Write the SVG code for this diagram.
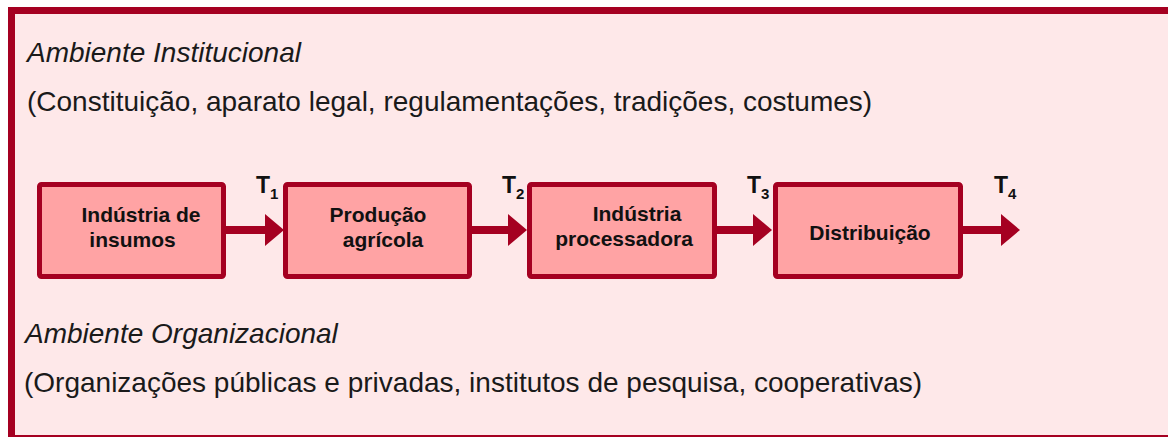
<svg xmlns="http://www.w3.org/2000/svg" width="1168" height="437" viewBox="0 0 1168 437">
  <style>
    .frame { fill: #FEE8E9; stroke: #A50021; stroke-width: 7; }
    .box { fill: #FFA3A4; stroke: #A50021; stroke-width: 5; }
    .conn { stroke: #A50021; stroke-width: 8; fill: none; }
    .hdr { font-family: "Liberation Sans", Arial, sans-serif; font-size: 28px; fill: #1a1a1a; }
    .it { font-style: italic; }
    .lbl { font-family: "Liberation Sans", Arial, sans-serif; font-size: 21px; font-weight: bold; fill: #111; text-anchor: middle; }
    .t { font-family: "Liberation Sans", Arial, sans-serif; font-size: 23px; font-weight: bold; fill: #111; }
    .sub { font-size: 15px; }
  </style>
  <defs>
    <marker id="head" markerUnits="userSpaceOnUse" markerWidth="20" markerHeight="32" refX="1" refY="16" orient="auto" viewBox="0 0 20 32">
      <path d="M0,0 L19,16 L0,32 Z" fill="#A50021"/>
    </marker>
  </defs>

  <rect class="frame" x="11.5" y="10.5" width="1170" height="428"/>

  <g id="texts">
    <text class="hdr it" x="27" y="62">Ambiente Institucional</text>
    <text class="hdr" x="27" y="111">(Constituição, aparato legal, regulamentações, tradições, costumes)</text>
    <text class="hdr it" x="25" y="343">Ambiente Organizacional</text>
    <text class="hdr" x="24" y="392">(Organizações públicas e privadas, institutos de pesquisa, cooperativas)</text>
  </g>

  <g id="connectors">
    <path class="conn" d="M226,230 H266" marker-end="url(#head)"/>
    <path class="conn" d="M472,230 H509" marker-end="url(#head)"/>
    <path class="conn" d="M717,230 H754" marker-end="url(#head)"/>
    <path class="conn" d="M963,230 H1002" marker-end="url(#head)"/>
    <text class="t" x="256" y="193">T<tspan class="sub" dy="6">1</tspan></text>
    <text class="t" x="502" y="193">T<tspan class="sub" dy="6">2</tspan></text>
    <text class="t" x="747" y="193">T<tspan class="sub" dy="6">3</tspan></text>
    <text class="t" x="994" y="193">T<tspan class="sub" dy="6">4</tspan></text>
  </g>

  <g id="node-insumos">
    <rect class="box" x="39.5" y="184.5" width="184" height="92" rx="2"/>
    <text class="lbl" x="141" y="222">Indústria de</text>
    <text class="lbl" x="132.5" y="247">insumos</text>
  </g>
  <g id="node-producao">
    <rect class="box" x="285.5" y="184.5" width="184" height="92" rx="2"/>
    <text class="lbl" x="378" y="222">Produção</text>
    <text class="lbl" x="383" y="247">agrícola</text>
  </g>
  <g id="node-processadora">
    <rect class="box" x="529.5" y="184.5" width="185" height="92" rx="2"/>
    <text class="lbl" x="637" y="221">Indústria</text>
    <text class="lbl" x="624" y="246">processadora</text>
  </g>
  <g id="node-distribuicao">
    <rect class="box" x="775.5" y="184.5" width="185" height="92" rx="2"/>
    <text class="lbl" x="870" y="240">Distribuição</text>
  </g>
</svg>
